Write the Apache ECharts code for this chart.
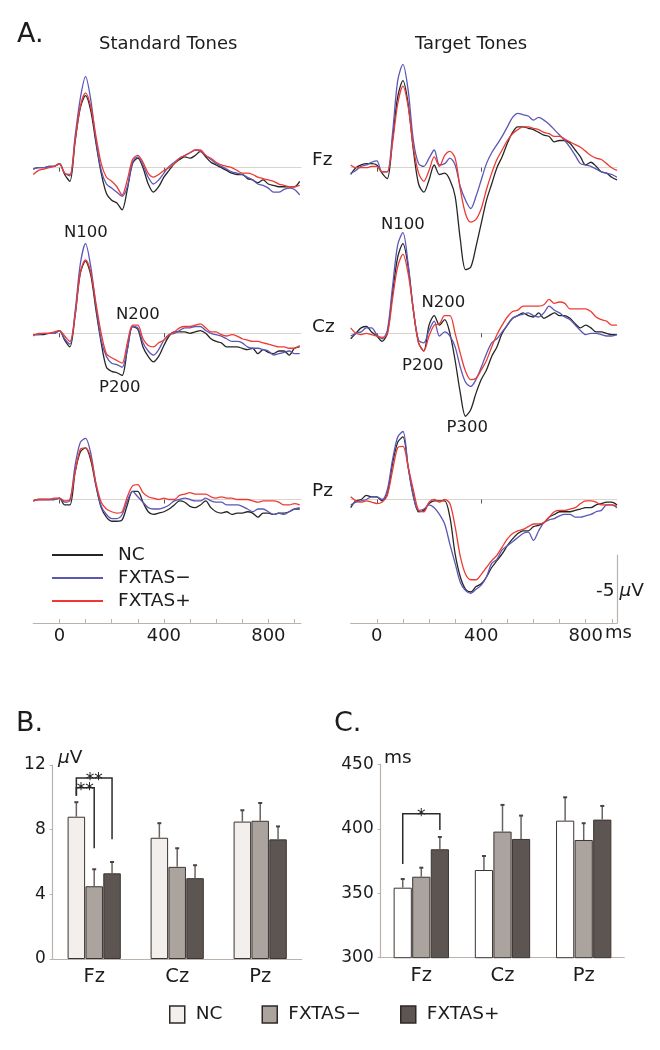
<!DOCTYPE html>
<html>
<head>
<meta charset="utf-8">
<script src="https://cdn.jsdelivr.net/npm/echarts@6/dist/echarts.min.js"></script>
<style>
html, body { margin: 0; padding: 0; background: #fff; }
#chart { width: 660px; height: 1050px; }
</style>
</head>
<body>
<div id="chart"></div>
<script>
// time points (ms) for every ERP trace
var times = [-100,-80,-60,-40,-20,0,20,40,60,80,100,120,140,160,180,200,220,240,260,280,300,320,340,360,380,400,420,440,460,480,500,520,540,560,580,600,620,640,660,680,700,720,740,760,780,800,820,840,860,880,900,920];

// ERP amplitudes in uV (negative plotted up) - standard tones
var stdFzNC  = [0.1,0.0,0.0,-0.1,-0.1,-0.3,0.5,1.0,-1.9,-4.4, -5.3,-4.2,-1.8,0.4,1.9,2.4,2.6,3.1,1.6,-0.3, -0.7,0.0,1.2,1.8,1.4,0.7,0.2,-0.3,-0.6,-0.8, -0.7,-0.9,-1.2,-0.8,-0.4,-0.2,0.0,0.2,0.4,0.5, 0.5,0.8,0.9,1.1,0.9,1.2,1.3,1.4,1.4,1.4, 1.4,1.0];
var stdFzNeg = [0.1,0.0,0.0,-0.1,-0.1,-0.3,0.4,0.6,-2.3,-5.1, -6.7,-5.0,-2.0,0.2,1.2,1.5,1.8,2.1,1.4,-0.4, -0.8,-0.2,0.7,1.2,0.9,0.4,-0.1,-0.4,-0.7,-0.9, -1.1,-1.3,-1.2,-0.9,-0.6,-0.3,-0.1,0.1,0.3,0.4, 0.5,0.7,0.9,1.2,1.3,1.5,1.8,1.8,1.6,1.5, 1.6,2.0];
var stdFzPos = [0.5,0.2,0.1,0.0,-0.1,-0.3,0.4,0.5,-2.0,-4.5, -5.5,-4.5,-2.3,-0.3,0.7,1.0,1.4,2.0,0.9,-0.6, -0.9,-0.4,0.4,0.7,0.5,0.2,0.0,-0.3,-0.7,-0.9, -1.1,-1.3,-1.3,-0.9,-0.7,-0.4,-0.2,-0.1,0.0,0.2, 0.4,0.4,0.5,0.7,0.8,0.9,1.0,1.2,1.3,1.4, 1.4,1.3];

var stdCzNC  = [0.1,0.1,0.1,0.0,0.0,-0.2,0.5,1.0,-1.3,-4.4, -5.3,-4.3,-1.7,0.7,2.5,2.8,2.9,3.1,1.2,-0.5, -0.3,1.0,1.7,2.1,1.7,0.9,0.2,-0.1,-0.1,-0.1, 0.0,-0.1,-0.2,0.0,0.4,0.6,0.7,1.0,1.0,1.0, 1.1,1.2,1.1,1.5,1.2,1.4,1.5,1.3,1.3,1.6, 1.1,1.0];
var stdCzNeg = [0.1,0.1,0.0,0.0,0.0,-0.2,0.4,0.8,-1.6,-5.1, -6.6,-4.9,-2.0,0.5,1.7,2.2,2.3,2.5,1.2,-0.5, -0.4,0.7,1.3,1.6,1.2,0.5,0.1,0.0,-0.2,-0.4, -0.4,-0.5,-0.5,-0.2,0.0,0.1,0.2,0.4,0.6,0.6, 0.7,1.0,1.1,1.1,1.2,1.3,1.6,1.5,1.4,1.3, 1.5,1.5];
var stdCzPos = [0.2,0.0,0.0,0.0,-0.1,-0.2,0.2,0.6,-1.3,-4.5, -5.4,-4.5,-2.2,0.0,1.5,1.8,2.0,2.2,0.7,-0.6, -0.6,0.4,0.9,1.0,0.7,0.5,0.1,-0.1,-0.4,-0.5, -0.5,-0.6,-0.7,-0.4,-0.1,-0.1,0.1,0.2,0.1,0.2, 0.4,0.5,0.6,0.6,0.7,0.8,0.9,1.0,1.0,1.1, 1.1,0.9];

var stdPzNC  = [0.1,0.0,0.0,0.0,0.0,-0.1,0.4,0.4,-2.0,-3.5, -3.8,-2.9,-1.0,0.6,1.3,1.6,1.6,1.5,0.4,-0.6, -0.6,0.2,0.9,1.1,1.0,0.9,0.7,0.4,0.1,0.2, 0.5,0.6,0.4,0.1,0.6,0.9,1.0,0.9,1.1,1.0, 1.0,0.9,1.0,1.3,1.0,1.0,1.1,1.0,1.0,0.9, 0.7,0.7];
var stdPzNeg = [0.1,0.0,0.0,0.0,0.0,-0.1,0.2,0.1,-2.5,-4.2, -4.5,-3.4,-1.1,0.5,1.1,1.4,1.4,1.1,0.1,-0.6, -0.2,0.2,0.6,0.7,0.7,0.6,0.4,0.1,0.0,-0.1, 0.0,0.1,0.1,-0.1,0.1,0.2,0.2,0.4,0.4,0.4, 0.5,0.7,0.9,0.7,0.7,0.9,1.1,1.0,1.1,0.9, 0.7,0.6];
var stdPzPos = [0.1,0.0,0.0,0.0,-0.1,-0.1,0.1,0.0,-2.0,-3.7, -3.8,-3.1,-1.2,0.2,0.7,0.9,1.0,0.9,-0.2,-1.0, -1.1,-0.5,-0.2,-0.1,0.0,-0.1,0.0,0.0,-0.3,-0.4, -0.5,-0.4,-0.4,-0.4,-0.2,-0.1,-0.2,-0.1,-0.1,0.0, 0.0,0.0,0.1,0.2,0.1,0.1,0.1,0.2,0.4,0.4, 0.3,0.4];

// target tones
var tgtFzNC  = [0.5,0.0,-0.2,-0.3,-0.3,-0.2,0.4,0.8,-2.0,-5.2, -6.4,-4.7,-1.3,1.2,1.8,0.9,-0.2,0.5,0.4,0.9, 2.1,5.3,7.5,7.3,5.8,4.1,2.4,1.2,0.0,-0.8, -1.8,-2.6,-3.0,-3.0,-2.9,-2.8,-2.6,-2.4,-2.3,-1.9, -2.0,-2.0,-1.8,-1.3,-0.8,-0.2,-0.4,-0.1,0.3,0.4, 0.7,0.9];
var tgtFzNeg = [0.4,0.2,-0.1,-0.2,-0.4,-0.5,0.3,0.3,-2.5,-6.4, -7.6,-5.7,-2.0,-0.3,-0.1,-0.7,-1.3,-0.2,-0.3,-0.7, -0.2,1.4,2.4,3.0,2.1,0.9,-0.3,-1.1,-1.7,-2.3, -3.0,-3.7,-4.0,-3.9,-3.8,-3.5,-3.7,-3.5,-3.2,-2.8, -2.4,-2.0,-1.5,-0.9,-0.3,-0.2,-0.1,0.1,0.3,0.4, 0.5,0.7];
var tgtFzPos = [-0.2,0.0,0.0,0.0,-0.1,-0.1,0.3,0.3,-1.8,-4.7, -6.0,-4.5,-1.5,0.4,1.0,0.2,-0.8,-0.1,-0.9,-1.2, -0.7,1.6,3.4,4.0,3.8,3.0,1.6,0.4,-0.6,-1.3, -2.0,-2.5,-2.8,-3.0,-3.0,-2.9,-2.8,-2.6,-2.5,-2.3, -2.3,-2.1,-1.9,-1.7,-1.5,-1.2,-0.9,-0.7,-0.6,-0.3, 0.0,0.2];

var tgtCzNC  = [0.4,0.0,-0.4,-0.5,-0.1,0.2,0.6,0.0,-2.9,-5.6, -6.6,-4.9,-1.7,0.7,1.3,-0.6,-1.3,-0.6,-1.0,0.0, 2.0,4.4,6.1,5.6,4.4,3.4,2.7,1.7,1.0,0.0, -0.6,-1.1,-1.3,-1.5,-1.3,-1.2,-1.5,-1.1,-1.3,-1.5, -1.3,-1.3,-1.1,-0.7,-0.4,-0.6,-0.4,-0.1,-0.1,0.0, 0.1,0.1];
var tgtCzNeg = [0.2,0.0,-0.1,-0.4,-0.4,0.1,0.4,-0.2,-3.4,-6.5, -7.4,-5.1,-1.7,0.5,0.7,-0.2,-0.9,0.2,-0.1,0.2, 1.0,2.5,3.6,3.9,3.4,2.5,1.5,0.7,0.4,-0.1, -0.6,-1.1,-1.3,-1.4,-1.5,-1.3,-1.2,-1.5,-2.0,-1.7, -1.5,-1.2,-1.0,-0.6,-0.2,0.1,0.0,0.0,0.1,0.2, 0.2,0.1];
var tgtCzPos = [-0.4,0.0,0.1,0.0,0.1,0.2,0.3,0.1,-2.5,-4.9, -5.8,-4.4,-1.7,0.7,1.3,0.2,-0.6,-0.7,-1.3,-1.3, 0.0,1.5,2.8,3.4,3.3,2.7,2.0,1.0,0.1,-0.6, -1.2,-1.6,-1.7,-2.0,-2.0,-2.0,-2.0,-2.1,-2.5,-2.2, -2.3,-2.2,-1.8,-1.8,-1.8,-1.8,-1.6,-1.2,-1.0,-0.9, -0.6,-0.6];

var tgtPzNC  = [0.6,0.1,0.0,-0.3,-0.2,-0.2,0.1,-0.4,-2.6,-4.2, -4.6,-2.4,-0.3,0.9,0.8,0.3,0.1,0.1,0.1,1.3, 4.0,5.7,6.6,6.8,6.4,6.2,5.7,5.0,4.5,4.0, 3.4,2.9,2.5,2.3,2.3,2.0,1.9,1.7,1.3,1.1, 0.9,0.9,0.9,0.8,0.7,0.6,0.6,0.4,0.3,0.2, 0.2,0.4];
var tgtPzNeg = [0.4,0.2,0.1,0.0,-0.2,-0.2,0.0,-0.7,-2.9,-4.6, -5.0,-2.4,-0.2,0.8,0.7,0.4,0.6,1.1,1.8,3.3, 4.7,6.1,6.7,6.9,6.6,6.3,5.7,4.7,4.4,3.7, 3.4,3.1,2.8,2.5,2.4,3.0,2.3,1.7,1.5,1.4, 1.2,1.1,1.1,1.3,1.3,1.2,1.1,0.9,0.8,0.4, 0.4,0.6];
var tgtPzPos = [-0.2,0.1,0.2,0.1,0.2,0.3,0.2,-0.3,-2.1,-3.8, -3.9,-2.4,-0.7,0.8,0.9,0.2,0.0,0.2,0.0,0.3, 2.0,4.2,5.5,5.9,5.9,5.5,5.0,4.5,4.1,3.5, 2.9,2.5,2.3,2.2,2.0,1.8,1.8,1.7,1.3,0.9, 0.8,0.8,0.7,0.6,0.3,0.1,0.1,0.2,0.4,0.4, 0.4,0.5];

// tick labels for the time axes
var timeTicks = [0,100,200,300,400,500,600,700,800,900];
var timeLabels = [0,400,800];

// bar charts: B = amplitude (uV), C = latency (ms)
var sites = ['Fz','Cz','Pz'];
var ampNC   = [8.8, 7.5, 8.5],  ampNCse   = [0.9, 0.9, 0.7];
var ampNeg  = [4.5, 5.7, 8.55], ampNegse  = [1.05, 1.15, 1.1];
var ampPos  = [5.3, 5.0, 7.4],  ampPosse  = [0.7, 0.8, 0.8];
var latNC   = [354.3, 368.0, 406.3], latNCse  = [6.7, 10.9, 18.1];
var latNeg  = [362.8, 397.8, 391.3], latNegse = [7.0, 20.7, 13.0];
var latPos  = [384.1, 392.1, 407.1], latPosse = [9.5, 18.1, 10.6];
// significance brackets: [site, fromGroup, toGroup, yStart, yTop, yEnd]
var sigB = [[0, 0, 2, 10.1, 11.2, 7.4], [0, 0, 1, 10.1, 10.6, 6.85]];
var sigBText = ['**', '**'];
var sigC = [[0, 0, 2, 372.7, 411.7, 399]];
var sigCText = ['*'];

var groups = ['NC', 'FXTAS\u2212', 'FXTAS+'];
var FONT = '"DejaVu Sans", "Liberation Sans", Arial, sans-serif';
var lineColors = ['#262626', '#5a57b6', '#ee3a33'];
var barColB = ['#f2efed', '#aba39e', '#5d5551'];
var barColC = ['#ffffff', '#aba39e', '#5d5551'];
var axisColor = '#bcb2ac';
var textColor = '#1c1c1c';

var waves = [
    [stdFzNC, stdFzNeg, stdFzPos], [tgtFzNC, tgtFzNeg, tgtFzPos],
    [stdCzNC, stdCzNeg, stdCzPos], [tgtCzNC, tgtCzNeg, tgtCzPos],
    [stdPzNC, stdPzNeg, stdPzPos], [tgtPzNC, tgtPzNeg, tgtPzPos]
];

var colLeft = [33.3, 350.7], colWidth = [267.7, 266.3], colMax = [925, 920];
var rowBase = [167.7, 333.3, 499.5];
var pxPerUv = 13.6;

var chart = echarts.init(document.getElementById('chart'));

var grid = [], xAxis = [], yAxis = [], series = [];

// ERP panels
for (var r = 0; r < 3; r++) {
    for (var c = 0; c < 2; c++) {
        var gi = r * 2 + c;
        grid.push({ left: colLeft[c], width: colWidth[c], top: rowBase[r] - 10 * pxPerUv, height: 20 * pxPerUv, outerBoundsMode: 'none' });
        xAxis.push({
            type: 'value', gridIndex: gi, min: -100, max: colMax[c],
            axisLine: { show: true, onZero: true, lineStyle: { color: '#dbd4ce', width: 1 } },
            axisTick: { show: true, customValues: [0, 400], length: 4, lineStyle: { color: '#555', width: 1 } },
            axisLabel: { show: false },
            splitLine: { show: false }
        });
        yAxis.push({ type: 'value', gridIndex: gi, min: -10, max: 10, inverse: true, show: false, splitLine: { show: false } });
        for (var k = 0; k < 3; k++) {
            var vals = waves[gi][k];
            series.push({
                type: 'line', name: groups[k], xAxisIndex: gi, yAxisIndex: gi,
                data: times.map(function (t, i) { return [t, vals[i]]; }),
                showSymbol: false, smooth: 0.3, silent: true, z: 3 + k,
                lineStyle: { width: 1.3, color: lineColors[k] },
                itemStyle: { color: lineColors[k] }
            });
        }
    }
}

// time axes at the bottom of panel A
for (var c2 = 0; c2 < 2; c2++) {
    var bi = 6 + c2;
    grid.push({ left: colLeft[c2], width: colWidth[c2], top: 555, height: 68, outerBoundsMode: 'none' });
    xAxis.push({
        type: 'value', gridIndex: bi, min: -100, max: colMax[c2], position: 'bottom',
        axisLine: { show: true, onZero: false, lineStyle: { color: axisColor, width: 1.2 } },
        axisTick: { show: true, customValues: timeTicks, inside: true, length: 4, lineStyle: { color: axisColor } },
        axisLabel: { customValues: timeLabels, color: textColor, fontSize: 18, fontFamily: FONT, margin: 4 },
        splitLine: { show: false }
    });
    if (c2 === 0) {
        yAxis.push({ type: 'value', gridIndex: bi, min: 0, max: 5, show: false });
    } else {
        // -5 uV scale bar
        yAxis.push({
            type: 'value', gridIndex: bi, min: 0, max: 5, position: 'right',
            axisLine: { show: true, onZero: false, lineStyle: { color: axisColor, width: 1.2 } },
            axisTick: { show: false }, axisLabel: { show: false }, splitLine: { show: false }
        });
    }
}

// bar panels B and C
function barAxes(gi, left, top, width, height, min, max, interval) {
    grid.push({ left: left, top: top, width: width, height: height, outerBoundsMode: 'none' });
    xAxis.push({
        type: 'category', gridIndex: gi, data: sites,
        axisLine: { show: true, lineStyle: { color: axisColor, width: 1.2 } },
        axisTick: { show: false },
        axisLabel: { color: textColor, fontSize: 19.5, fontFamily: FONT, margin: 8 }
    });
    yAxis.push({
        type: 'value', gridIndex: gi, min: min, max: max, interval: interval,
        axisLine: { show: true, lineStyle: { color: axisColor, width: 1.2 } },
        axisTick: { show: true, length: 3, lineStyle: { color: axisColor } },
        axisLabel: { color: textColor, fontSize: 17, fontFamily: FONT, margin: 7 },
        splitLine: { show: false }
    });
}
barAxes(8, 52.7, 765, 249, 194, 0, 12, 4);
barAxes(9, 380.7, 764.3, 243.6, 193.4, 300, 450, 50);

function errRender(k, w) {
    return function (params, api) {
        var cat = api.value(0), mean = api.value(1), se = api.value(2);
        var b = api.coord([cat, mean]);
        var t = api.coord([cat, mean + se]);
        var x = b[0] + (k - 1) * w * 1.02;
        return {
            type: 'group', children: [
                { type: 'line', shape: { x1: x, y1: b[1], x2: x, y2: t[1] }, style: { stroke: '#6b6360', lineWidth: 1.5 } },
                { type: 'line', shape: { x1: x - 2, y1: t[1], x2: x + 2, y2: t[1] }, style: { stroke: '#4a4340', lineWidth: 2 } }
            ]
        };
    };
}

function sigRender(texts, w) {
    return function (params, api) {
        var cat = api.value(0);
        var off1 = (api.value(1) - 1) * w * 1.02, off2 = (api.value(2) - 1) * w * 1.02;
        var p0 = api.coord([cat, api.value(3)]);
        var pt = api.coord([cat, api.value(4)]);
        var p1 = api.coord([cat, api.value(5)]);
        var x1 = p0[0] + off1, x2 = p0[0] + off2;
        return {
            type: 'group', children: [
                { type: 'polyline', shape: { points: [[x1, p0[1]], [x1, pt[1]], [x2, pt[1]], [x2, p1[1]]] }, style: { stroke: '#2f2a28', lineWidth: 1.5, fill: null } },
                { type: 'text', style: { text: texts[params.dataIndex], x: (x1 + x2) / 2, y: pt[1] + 3, align: 'center', verticalAlign: 'middle', font: '17px ' + FONT, fill: '#222' } }
            ]
        };
    };
}

function addBars(gi, means, ses, colors, w, sig, sigText) {
    for (var k = 0; k < 3; k++) {
        series.push({
            type: 'bar', name: groups[k] + ' bar', xAxisIndex: gi, yAxisIndex: gi,
            data: means[k], barWidth: w, barGap: '2%', silent: true, z: 2,
            itemStyle: { color: colors[k], borderColor: '#3b3431', borderWidth: 1 }
        });
    }
    for (var k2 = 0; k2 < 3; k2++) {
        var m = means[k2], s = ses[k2];
        series.push({
            type: 'custom', name: 'err' + gi + k2, xAxisIndex: gi, yAxisIndex: gi, silent: true, z: 4,
            renderItem: errRender(k2, w),
            encode: { x: 0, y: 1 },
            data: sites.map(function (name, i) { return [i, m[i], s[i]]; })
        });
    }
    series.push({
        type: 'custom', name: 'sig' + gi, xAxisIndex: gi, yAxisIndex: gi, silent: true, z: 5,
        renderItem: sigRender(sigText, w), encode: { x: 0, y: 4 }, data: sig
    });
}
addBars(8, [ampNC, ampNeg, ampPos], [ampNCse, ampNegse, ampPosse], barColB, 17.5, sigB, sigBText);
addBars(9, [latNC, latNeg, latPos], [latNCse, latNegse, latPosse], barColC, 18.2, sigC, sigCText);

function label(text, x, y, size, extra) {
    var st = { text: text, x: x, y: y, font: size + 'px ' + FONT, fill: textColor, align: 'left', verticalAlign: 'middle' };
    if (extra) { for (var key in extra) { st[key] = extra[key]; } }
    return { type: 'text', silent: true, style: st };
}
var italicMu = { rich: { i: { fontStyle: 'italic', fontSize: 18.5, fontFamily: FONT, fill: textColor } } };

var graphic = [
    label('A.', 17, 34.5, 27),
    label('Standard Tones', 99, 44.5, 18),
    label('Target Tones', 415, 44.5, 18),
    label('Fz', 312, 160, 18.5), label('Cz', 312, 327.5, 18.5), label('Pz', 312, 491.5, 18.5),
    label('N100', 64, 233, 16.5), label('N200', 116, 314.5, 16.5), label('P200', 99, 388, 16.5),
    label('N100', 381, 224.5, 16.5), label('N200', 421.5, 303, 16.5), label('P200', 402, 365.5, 16.5), label('P300', 446.5, 428, 16.5),
    label('ms', 605, 633, 18),
    label('-5', 596, 591, 18.5),
    label('{i|\u00b5}V', 619.5, 591, 18.5, italicMu),
    label('B.', 16, 724, 27),
    label('C.', 334, 724, 27),
    label('{i|\u00b5}V', 58, 758.5, 18.5, italicMu),
    label('ms', 384, 758, 18.5)
];

chart.setOption({
    animation: false,
    backgroundColor: '#fff',
    textStyle: { fontFamily: FONT },
    grid: grid,
    xAxis: xAxis,
    yAxis: yAxis,
    legend: [
        {
            orient: 'vertical', left: 47, top: 540.5, padding: 5,
            itemWidth: 51, itemHeight: 2, icon: 'rect', itemGap: 4, selectedMode: false,
            data: groups,
            textStyle: { fontSize: 18.5, color: textColor, fontFamily: FONT, padding: [0, 0, 0, 10] }
        },
        {
            orient: 'horizontal', left: 164, top: 1000, padding: 5,
            itemWidth: 15, itemHeight: 17, icon: 'rect', itemGap: 39, selectedMode: false,
            data: groups.map(function (g) { return g + ' bar'; }),
            formatter: function (n) { return n.replace(' bar', ''); },
            itemStyle: { borderColor: '#2d2826', borderWidth: 1.5 },
            textStyle: { fontSize: 18.5, color: textColor, fontFamily: FONT, padding: [0, 0, 0, 6] }
        }
    ],
    graphic: graphic,
    series: series
});
</script>
</body>
</html>
